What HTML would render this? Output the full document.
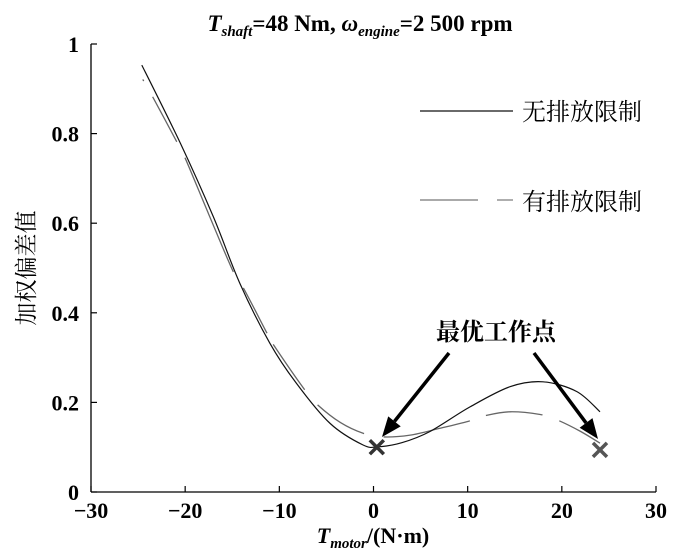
<!DOCTYPE html>
<html><head><meta charset="utf-8"><style>
body{margin:0;background:#fff;}
svg text{font-family:"Liberation Serif","Noto Serif CJK SC",serif;}
</style></head><body>
<svg width="700" height="555" viewBox="0 0 700 555">
<g id="axes"></g>
<g id="series"></g>
<text x="360" y="31" font-size="23" text-anchor="middle" font-weight="bold"><tspan font-style="italic">T</tspan><tspan font-size="15" font-style="italic" dy="5">shaft</tspan><tspan dy="-5">=48 Nm, </tspan><tspan font-style="italic">ω</tspan><tspan font-size="15" font-style="italic" dy="5">engine</tspan><tspan dy="-5">=2 500 rpm</tspan></text>
<text x="373" y="543" font-size="22" text-anchor="middle" font-weight="bold"><tspan font-style="italic">T</tspan><tspan font-size="15" font-style="italic" dy="5">motor</tspan><tspan dy="-5">/(N·m)</tspan></text>
<text transform="translate(34,268) rotate(-90)" font-size="23" text-anchor="middle" font-family="Noto Serif CJK SC">加权偏差值</text>
<g>
<line x1="420" y1="111" x2="513" y2="111" stroke="#111" stroke-width="1.2"/>
<text x="522" y="120" font-size="24" font-family="Noto Serif CJK SC">无排放限制</text>
<line x1="420" y1="200" x2="478" y2="200" stroke="#777" stroke-width="1.2"/>
<line x1="497" y1="200" x2="513" y2="200" stroke="#777" stroke-width="1.2"/>
<text x="522" y="210" font-size="24" font-family="Noto Serif CJK SC">有排放限制</text>
</g>
<text x="496" y="340" font-size="24" text-anchor="middle" font-family="Noto Serif CJK SC" font-weight="bold">最优工作点</text>
<g id="ann"></g>
</svg>
<script>
const xTicks=[-30,-20,-10,0,10,20,30];
const yTicks=[0,0.2,0.4,0.6,0.8,1];
const yTickLabels=["0","0.2","0.4","0.6","0.8","1"];
const solidX=[-24.6,-20.5,-17,-14.2,-11,-8.2,-4.6,-1.1,0.5,3,6,10.25,14.5,18,21.6,24.05];
const solidY=[0.953,0.778,0.614,0.466,0.332,0.243,0.153,0.105,0.101,0.11,0.135,0.19,0.235,0.246,0.224,0.179];
const dashX=[-24.5,-23.4,-20.9,-20,-17.5,-14.9,-13.8,-11.3,-10.6,-7.3,-5.9,-3.5,-1.1,1,3.9,7,10.1,11.8,14.5,17.7,19.5,22,24.05];
const dashY=[0.921,0.88,0.782,0.745,0.62,0.492,0.455,0.354,0.328,0.228,0.194,0.155,0.131,0.123,0.127,0.142,0.158,0.17,0.179,0.173,0.161,0.135,0.109];
const optX=[0.35,24.05];
const optY=[0.1,0.094];
const L=91,R=656,T=44,B=492,ns="http://www.w3.org/2000/svg";
const sx=v=>L+(v+30)/60*(R-L), sy=v=>B-v*(B-T);
function mk(t,a,p){const e=document.createElementNS(ns,t);for(const k in a)e.setAttribute(k,a[k]);p.appendChild(e);return e;}
const ax=document.getElementById('axes');
let e=mk('line',{x1:L,y1:T,x2:L,y2:B,stroke:'#000','stroke-width':1.3},ax);


e=mk('line',{x1:L,y1:B,x2:R,y2:B,stroke:'#000','stroke-width':1.3},ax);


xTicks.forEach(v=>{
 const t=mk('line',{x1:sx(v),y1:B,x2:sx(v),y2:B-6,stroke:'#000','stroke-width':1.2},ax);
 
 
 const l=mk('text',{x:sx(v),y:B+26,'font-size':22,'text-anchor':'middle','font-weight':'bold'},ax);
 l.textContent=v<0?'−'+(-v):String(v);
 
 
});
yTicks.forEach((v,i)=>{
 const t=mk('line',{x1:L,y1:sy(v),x2:L+6,y2:sy(v),stroke:'#000','stroke-width':1.2},ax);
 
 
 const l=mk('text',{x:L-12,y:sy(v)+8,'font-size':22,'text-anchor':'end','font-weight':'bold'},ax);
 l.textContent=yTickLabels[i];
 
 
});
function path(xs,ys){
 const p=xs.map((x,i)=>[sx(x),sy(ys[i])]);
 let d='M'+p[0][0].toFixed(1)+','+p[0][1].toFixed(1);
 for(let i=0;i<p.length-1;i++){
  const p0=p[Math.max(0,i-1)],p1=p[i],p2=p[i+1],p3=p[Math.min(p.length-1,i+2)];
  const c1=[p1[0]+(p2[0]-p0[0])/6,p1[1]+(p2[1]-p0[1])/6];
  const c2=[p2[0]-(p3[0]-p1[0])/6,p2[1]-(p3[1]-p1[1])/6];
  d+=`C${c1[0].toFixed(1)},${c1[1].toFixed(1)} ${c2[0].toFixed(1)},${c2[1].toFixed(1)} ${p2[0].toFixed(1)},${p2[1].toFixed(1)}`;
 }
 return d;
}
const sg=document.getElementById('series');
e=mk('path',{d:path(dashX,dashY),fill:'none',stroke:'#666','stroke-width':1.3,'stroke-dasharray':'2 18 51 18 124 19 51 13 55 20 55 20 88 17 57 18 80'},sg);


e=mk('path',{d:path(solidX,solidY),fill:'none',stroke:'#111','stroke-width':1.2},sg);


const an=document.getElementById('ann');
const cols=['#333','#555'];
optX.forEach((x,i)=>{
 const cx=sx(x),cy=sy(optY[i]);
 const g=mk('path',{d:`M${cx-7},${cy-7}L${cx+7},${cy+7}M${cx-7},${cy+7}L${cx+7},${cy-7}`,stroke:cols[i],'stroke-width':3.5},an);
 
 
});
function arrow(x1,y1,x2,y2){
 const a=Math.atan2(y2-y1,x2-x1),h=20,w=8;
 const bx=x2-h*Math.cos(a),by=y2-h*Math.sin(a);
 const l=mk('line',{x1,y1,x2:bx,y2:by,stroke:'#000','stroke-width':3.5},an);
 
 
 const p=mk('polygon',{points:`${x2},${y2} ${bx+w*Math.sin(a)},${by-w*Math.cos(a)} ${bx-w*Math.sin(a)},${by+w*Math.cos(a)}`,fill:'#000'},an);
 
 
}
arrow(449,353,382,437);
arrow(534,353,598,439);
</script>
</body></html>
